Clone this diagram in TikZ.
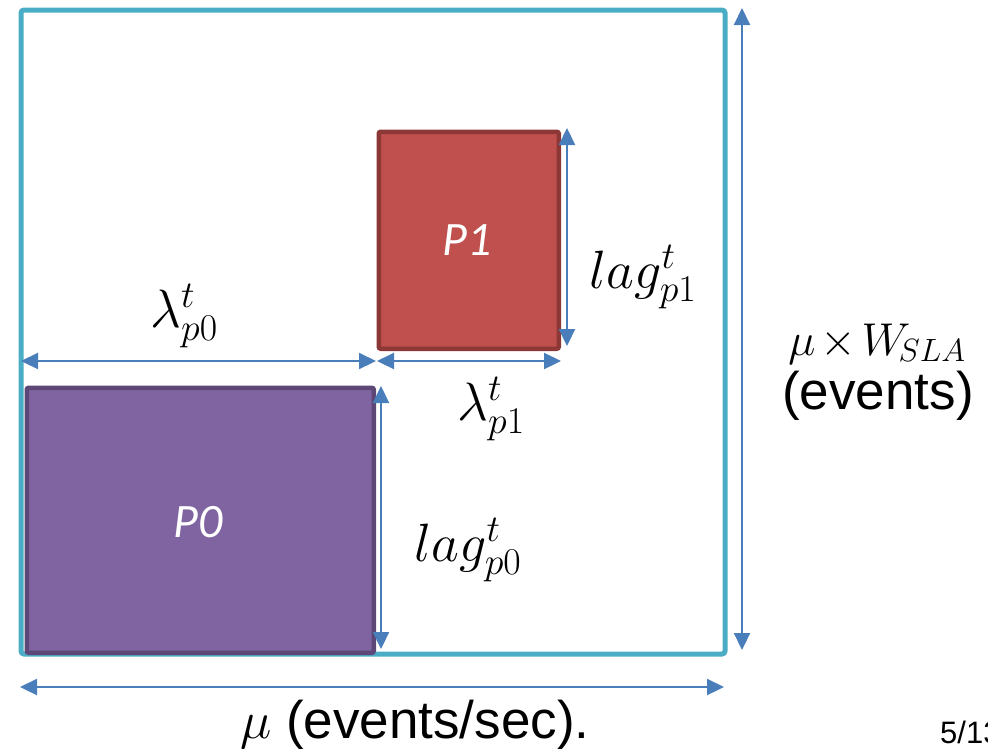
\RequirePackage{fix-cm}
\documentclass[tikz,border=0pt]{standalone}
\usepackage[no-math]{fontspec}
\setmainfont{Liberation Sans}
\newfontfamily\calib{Carlito}
\usetikzlibrary{arrows.meta}
\definecolor{framec}{HTML}{4BACC6}
\definecolor{arrowc}{HTML}{4A7EBB}
\definecolor{redf}{HTML}{C0504D}
\definecolor{redd}{HTML}{8C3836}
\definecolor{purf}{HTML}{8064A2}
\definecolor{purd}{HTML}{5C4776}
\tikzset{
  dim/.style={draw=arrowc, line width=2.2pt,
    {Triangle[length=17pt,width=16pt]}-{Triangle[length=17pt,width=16pt]}},
  part/.style={draw, line width=4.5pt, rounded corners=2pt, inner sep=0pt, anchor=north west},
  plabel/.style={text=white, inner sep=0pt, font=\calib\itshape\fontsize{48}{56}\selectfont},
  mlabel/.style={inner sep=0pt, font=\fontsize{54}{60}\selectfont},
  tlabel/.style={inner sep=0pt, font=\fontsize{53}{60}\selectfont},
}
\begin{document}
\begin{tikzpicture}[x=1pt,y=-1pt]
\useasboundingbox (0,0) rectangle (988,748);
% outer frame
\node[draw=framec, line width=5pt, rounded corners=3pt, inner sep=0pt, anchor=north west,
      minimum width=704pt, minimum height=644pt] (outer) at (18.5,7.5) {};
% partitions
\node[part, fill=purf, draw=purd, minimum width=347pt, minimum height=265pt] (p0) at (24.5,385.5) {};
\node[part, fill=redf, draw=redd, minimum width=180pt, minimum height=217pt] (p1) at (376.5,129.5) {};
\node[plabel] (p0t) at (198,522) {P0};
\node[plabel] (p1t) at (467,240) {P1};
% dimension coordinates
\coordinate (a1) at (21,361);  \coordinate (a2) at (376,361);
\coordinate (b1) at (377,361); \coordinate (b2) at (561,361);
\coordinate (c1) at (567,128); \coordinate (c2) at (567,346);
\coordinate (d1) at (381,386); \coordinate (d2) at (381,649);
\coordinate (e1) at (742,8);   \coordinate (e2) at (742,650);
\coordinate (f1) at (20,687);  \coordinate (f2) at (724,687);
\draw[dim] (a1) -- (a2);
\draw[dim] (b1) -- (b2);
\draw[dim] (c1) -- (c2);
\draw[dim] (d1) -- (d2);
\draw[dim] (e1) -- (e2);
\draw[dim] (f1) -- (f2);
% labels
\node[mlabel] (lp0) at (184,316) {$\lambda^{t}_{p0}$};
\node[mlabel] (lp1) at (491,409) {$\lambda^{t}_{p1}$};
\node[mlabel] (gp1) at (643,277) {$lag^{t}_{p1}$};
\node[mlabel] (gp0) at (468,550) {$lag^{t}_{p0}$};
\node[inner sep=0pt, anchor=base, font=\fontsize{46}{52}\selectfont] (mw) at (877,355)
  {$\mu\mskip-2mu\times\mskip-2mu W_{\!SLA}$};
\node[tlabel, anchor=base] (ev) at (878,409) {(events)};
\node[tlabel, anchor=base west] (mu) at (240,738) {$\mu$ (events/sec).};
\node[inner sep=0pt, anchor=base west, font=\fontsize{31}{36}\selectfont] (pg) at (940,743) {5/13};
\end{tikzpicture}
\end{document}
